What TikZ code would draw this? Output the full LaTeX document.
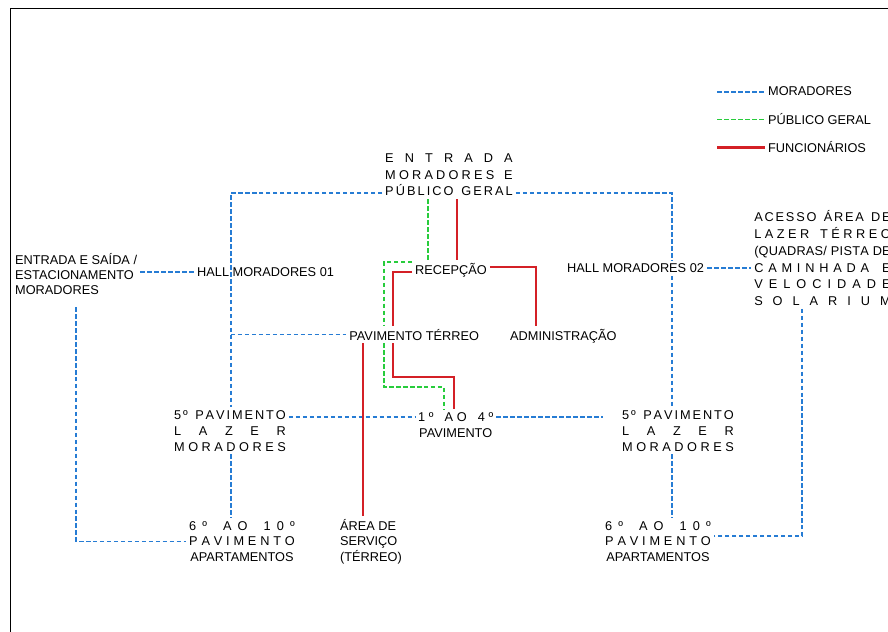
\documentclass[tikz,border=0pt]{standalone}
\usepackage{fontspec}
\setmainfont{Liberation Sans}
\usepackage{xcolor}
\usetikzlibrary{positioning}

\definecolor{morblue}{RGB}{38,124,212}
\definecolor{pubgreen}{RGB}{40,204,60}
\definecolor{funred}{RGB}{212,32,38}

% letters spread over a fixed width
\makeatletter
\newcommand\jst[2]{\makebox[#1][s]{\jst@a#2\@nil}}
\def\jst@a#1#2\@nil{#1\ifx\relax#2\relax\else\hfil\jst@a#2\@nil\fi}
\makeatother

\begin{document}
\begin{tikzpicture}[x=1bp, y=-1bp,
    txt/.style={font=\fontsize{12.8}{15.8}\selectfont, inner sep=3pt, align=center},
    mor/.style={draw=morblue, line width=1.8pt, dash pattern=on 4.5pt off 2.5pt},
    pub/.style={draw=pubgreen, line width=1.8pt, dash pattern=on 4.5pt off 2.5pt},
    fun/.style={draw=funred, line width=2.2pt}
]
    \useasboundingbox (0,0) rectangle (888,632);
    \fill[white] (0,0) rectangle (888,632);
    \draw[line width=1pt] (10,640) |- (895,9);

    % Legend
    \node[txt, anchor=base west] (lgm) at (765,96) {MORADORES};
    \node[txt, anchor=base west] (lgp) at (765,125) {PÚBLICO GERAL};
    \node[txt, anchor=base west] (lgf) at (765,153) {FUNCIONÁRIOS};
    \draw[mor] ([xshift=-48pt]lgm.west) -- (lgm.west);
    \draw[pub] ([xshift=-48pt]lgp.west) -- (lgp.west);
    \draw[fun] ([xshift=-48pt]lgf.west) -- (lgf.west);

    % Entrances and halls
    \node[txt, anchor=base, font=\fontsize{12.8}{16.7}\selectfont] (entrada) at (449,196)
        {\jst{128pt}{ENTRADA}\\ \jst{128pt}{MORADORES~E}\\ \jst{128pt}{PÚBLICO~GERAL}};
    \node[txt, anchor=base west, align=left, font=\fontsize{12.8}{15}\selectfont] (estac) at (12,294)
        {ENTRADA E SAÍDA /\\ ESTACIONAMENTO\\ MORADORES};
    \node[txt, anchor=base] (hall1) at (265.6,276.5) {HALL MORADORES 01};
    \node[txt, anchor=base] (recep) at (451,274.3) {RECEPÇÃO};
    \node[txt, anchor=base] (hall2) at (635.6,272.7) {HALL MORADORES 02};
    \node[txt, anchor=base, font=\fontsize{12.8}{16.8}\selectfont] (acesso) at (822.5,305.5)
        {\jst{137pt}{ACESSO~ÁREA~DE}\\ \jst{137pt}{LAZER~TÉRREO}\\ \jst{137pt}{(QUADRAS/~PISTA~DE}\\
         \jst{137pt}{CAMINHADA~E}\\ \jst{137pt}{VELOCIDADE}\\ \jst{137pt}{SOLARIUM}};

    % Ground floor
    \node[txt, anchor=base] (pavter) at (414.2,340) {PAVIMENTO TÉRREO};
    \node[txt, anchor=base] (admin) at (563.3,340) {ADMINISTRAÇÃO};

    % Upper floors
    \node[txt, anchor=base] (lazer1) at (230,451)
        {\jst{112pt}{5º~PAVIMENTO}\\ \jst{112pt}{LAZER}\\ \jst{112pt}{MORADORES}};
    \node[txt, anchor=base] (andares) at (455.7,437.3)
        {\jst{75.4pt}{1º~AO~4º}\\ PAVIMENTO};
    \node[txt, anchor=base] (lazer2) at (678,451)
        {\jst{112pt}{5º~PAVIMENTO}\\ \jst{112pt}{LAZER}\\ \jst{112pt}{MORADORES}};
    \node[txt, anchor=base] (apto1) at (242,561.6)
        {\jst{106pt}{6º~AO~10º}\\ \jst{106pt}{PAVIMENTO}\\ APARTAMENTOS};
    \node[txt, anchor=base west, align=left] (servico) at (337,561.5)
        {ÁREA DE\\ SERVIÇO\\ (TÉRREO)};
    \node[txt, anchor=base] (apto2) at (658,561.6)
        {\jst{106pt}{6º~AO~10º}\\ \jst{106pt}{PAVIMENTO}\\ APARTAMENTOS};

    % Bends
    \coordinate (jl) at (231,193);
    \coordinate (jr) at (672,193);
    \coordinate (ja) at (802,536);
    \coordinate (jf) at (0,417);
    \coordinate (gt) at (428,230);
    \coordinate (gc1) at (384,262);
    \coordinate (gc2) at (384,387);
    \coordinate (gc3) at (444,387);
    \coordinate (rt) at (457,230);
    \coordinate (rc1) at (393,272);
    \coordinate (rc2) at (536,267);
    \coordinate (rc3) at (393,377);
    \coordinate (rc4) at (454,377);
    \coordinate (rs) at (363,430);

    % Moradores
    \draw[mor] (entrada.west |- jl) -- (jl) -- (lazer1.north -| jl);
    \draw[mor] (lazer1.south -| jl) -- (apto1.north -| jl);
    \draw[mor] (pavter.west -| jl) -- (pavter.west);
    \draw[mor] (estac.east |- hall1.west) -- (hall1.west);
    \draw[mor, shorten <=10pt] (estac.south) |- (apto1.west);
    \draw[mor] (entrada.east |- jr) -- (jr) -- (hall2.north -| jr);
    \draw[mor] (hall2.south -| jr) -- (lazer2.north -| jr);
    \draw[mor] (lazer2.south -| jr) -- (apto2.north -| jr);
    \draw[mor] (hall2.east) -- (acesso.west |- hall2.east);
    \draw[mor] (acesso.south -| ja) -- (ja) -- (apto2.east |- ja);
    \draw[mor] (lazer1.east |- jf) -- (andares.west |- jf);
    \draw[mor, shorten >=16pt] (andares.east |- jf) -- (lazer2.west |- jf);

    % Publico geral
    \draw[pub] (entrada.south -| gt) -- (recep.north -| gt);
    \draw[pub] (recep.west |- gc1) -- (gc1) -- (pavter.north -| gc1);
    \draw[pub] (pavter.south -| gc2) -- (gc2) -- (gc3) -- (andares.north -| gc3);

    % Funcionarios
    \draw[fun] (entrada.south -| rt) -- (recep.north -| rt);
    \draw[fun] (recep.west |- rc1) -- (rc1) -- (pavter.north -| rc1);
    \draw[fun] (recep.east |- rc2) -- (rc2) -- (admin.north -| rc2);
    \draw[fun] (pavter.south -| rc3) -- (rc3) -- (rc4) -- (andares.north -| rc4);
    \draw[fun] (pavter.south -| rs) -- (servico.north -| rs);
\end{tikzpicture}
\end{document}
